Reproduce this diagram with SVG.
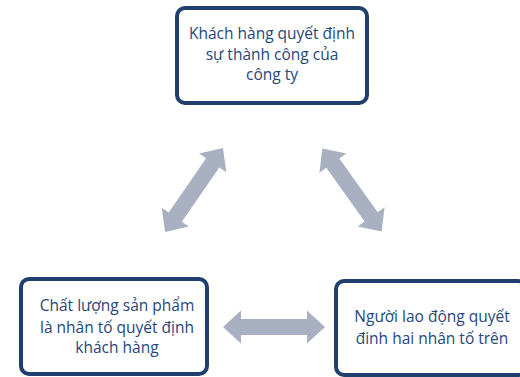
<svg xmlns="http://www.w3.org/2000/svg" width="520" height="377" viewBox="0 0 520 377">
<defs>
<style>
.box{fill:#fff;stroke:#1f3f6e;stroke-width:4}
.t{font-family:"Open Sans","Liberation Sans",sans-serif;font-size:15.5px;fill:#27467a;text-anchor:middle}
.arr{fill:#a9b0c1}
</style>
<polygon id="dbl" points="-51,0 -33,-16.5 -33,-8 33,-8 33,-16.5 51,0 33,16.5 33,8 -33,8 -33,16.5"/>
</defs>
<rect width="520" height="377" fill="#fff"/>
<g id="connectors" class="arr">
<use href="#dbl" transform="translate(194,190) rotate(-55.4)"/>
<use href="#dbl" transform="translate(352,190) rotate(54.5)"/>
<use href="#dbl" transform="translate(274,327)"/>
</g>
<g id="top">
<rect class="box" x="177" y="8" width="190" height="95" rx="8"/>
<text class="t" x="272" y="39">Khách hàng quyết định</text>
<text class="t" x="272" y="60">sự thành công của</text>
<text class="t" x="272" y="80">công ty</text>
</g>
<g id="left">
<rect class="box" x="21" y="279" width="186" height="95" rx="8"/>
<text class="t" x="117" y="311">Chất lượng sản phẩm</text>
<text class="t" x="117" y="333">là nhân tố quyết định</text>
<text class="t" x="117" y="353">khách hàng</text>
</g>
<g id="right">
<rect class="box" x="336" y="281" width="190" height="94" rx="8"/>
<text class="t" x="432" y="322">Người lao động quyết</text>
<text class="t" x="432" y="344">đinh hai nhân tố trên</text>
</g>
</svg>
